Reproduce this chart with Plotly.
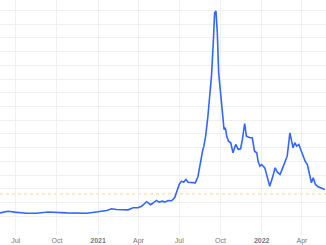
import plotly.graph_objects as go

dates = [
    "2020-05-27", "2020-06-14", "2020-06-29", "2020-07-25", "2020-08-16", "2020-09-11",
    "2020-10-22", "2020-12-06", "2020-12-28", "2021-01-20", "2021-01-31", "2021-02-11",
    "2021-03-09", "2021-03-20", "2021-03-31", "2021-04-08", "2021-04-19", "2021-04-28",
    "2021-05-02", "2021-05-11", "2021-05-17", "2021-05-25", "2021-05-30", "2021-06-06",
    "2021-06-14", "2021-06-21", "2021-07-01", "2021-07-06", "2021-07-11", "2021-07-16",
    "2021-07-21", "2021-07-28", "2021-08-06", "2021-08-12", "2021-08-17", "2021-08-22",
    "2021-08-25", "2021-08-29", "2021-09-03", "2021-09-07", "2021-09-11", "2021-09-15",
    "2021-09-18", "2021-09-21", "2021-09-24", "2021-09-27", "2021-10-01", "2021-10-05",
    "2021-10-09", "2021-10-12", "2021-10-15", "2021-10-19", "2021-10-24", "2021-10-29",
    "2021-11-04", "2021-11-10", "2021-11-15", "2021-11-19", "2021-11-24", "2021-11-28",
    "2021-12-06", "2021-12-11", "2021-12-16", "2021-12-21", "2021-12-24", "2021-12-28",
    "2022-01-01", "2022-01-08", "2022-01-14", "2022-01-19", "2022-01-25", "2022-01-31",
    "2022-02-05", "2022-02-11", "2022-02-17", "2022-02-22", "2022-02-27", "2022-03-05",
    "2022-03-09", "2022-03-12", "2022-03-16", "2022-03-20", "2022-03-25", "2022-03-29",
    "2022-04-02", "2022-04-08", "2022-04-13", "2022-04-19", "2022-04-22", "2022-04-26",
    "2022-05-01", "2022-05-07", "2022-05-14", "2022-05-22",
]
values = [
    12.5, 13.7, 13.0, 12.2, 12.2, 13.1,
    12.5, 12.2, 13.1, 14.2, 15.5, 14.9,
    14.7, 16.2, 16.2, 17.3, 20.6, 18.4,
    19.3, 21.6, 20.3, 21.0, 20.3, 21.5,
    21.3, 23.7, 33.2, 35.6, 34.8, 36.8,
    34.8, 34.8, 34.4, 39.2, 49.0, 57.4,
    61.1, 68.4, 82.9, 95.1, 112.1, 136.5,
    158.3, 159.5, 143.7, 114.6, 100.0, 85.4,
    73.3, 74.5, 68.4, 64.7, 63.6, 56.3,
    62.3, 58.7, 59.2, 66.0, 77.6, 68.4,
    67.2, 67.2, 57.4, 56.3, 50.1, 46.5,
    47.7, 45.3, 36.8, 31.9, 38.0, 45.3,
    42.1, 40.5, 45.3, 50.1, 53.8, 70.8,
    64.7, 59.9, 63.6, 61.1, 62.3, 58.7,
    56.3, 50.1, 47.7, 36.8, 34.4, 38.0,
    33.2, 31.5, 30.8, 29.5,
]
reference_level = 26.3

tick_dates = ["2020-07-01", "2020-10-01", "2021-01-01", "2021-04-01",
              "2021-07-01", "2021-10-01", "2022-01-01", "2022-04-01"]
tick_labels = ["Jul", "Oct", "<b>2021</b>", "Apr", "Jul", "Oct", "<b>2022</b>", "Apr"]

x_range = ["2020-05-27", "2022-05-24 14:00"]
y_range = [0, 167.6]

fig = go.Figure()
fig.add_shape(type="line", xref="paper", x0=0, x1=1, yref="y",
              y0=reference_level, y1=reference_level,
              line=dict(color="#ffd09a", width=1, dash="dot"), layer="below")
fig.add_trace(go.Scatter(
    x=dates, y=values, mode="lines",
    line=dict(color="#3366ff", width=1.6),
    hoverinfo="skip", showlegend=False,
))

fig.update_layout(
    width=326, height=245,
    margin=dict(l=0, r=0, t=0, b=15, autoexpand=False),
    paper_bgcolor="white", plot_bgcolor="white",
    font=dict(family="Liberation Sans, Arial, sans-serif", size=7, color="#777777"),
    xaxis=dict(
        range=x_range, tickvals=tick_dates, ticktext=tick_labels,
        showgrid=True, gridcolor="#f0f0f0", gridwidth=1,
        ticks="outside", ticklen=4, tickcolor="#eeeeee",
        zeroline=False, showline=False, tickangle=0,
    ),
    yaxis=dict(
        range=y_range, dtick=10, showgrid=True, gridcolor="#f0f0f0", gridwidth=1,
        showticklabels=False, zeroline=False, showline=False,
    ),
)
fig.write_html("out.html")
